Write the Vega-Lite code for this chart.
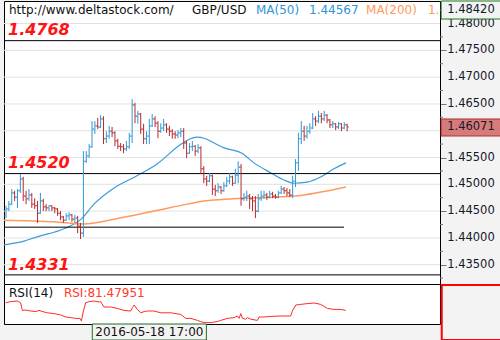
{
"$schema": "https://vega.github.io/schema/vega-lite/v6.json",
"background": "#f3f3f3",
"padding": 0,
"spacing": 0,
"bounds": "flush",
"config": {"view": {"fill": "white", "stroke": "#000", "strokeWidth": 1}, "font": "DejaVu Sans"},
"datasets": {
"bars": [
{"i":0,"o":1.4441,"h":1.4460,"l":1.4437,"c":1.4454},
{"i":1,"o":1.4454,"h":1.4469,"l":1.4450,"c":1.4463},
{"i":2,"o":1.4463,"h":1.4491,"l":1.4461,"c":1.4484},
{"i":3,"o":1.4484,"h":1.4488,"l":1.4469,"c":1.4476},
{"i":4,"o":1.4476,"h":1.4491,"l":1.4456,"c":1.4488},
{"i":5,"o":1.4488,"h":1.4519,"l":1.4484,"c":1.4510},
{"i":6,"o":1.4510,"h":1.4514,"l":1.4469,"c":1.4478},
{"i":7,"o":1.4478,"h":1.4488,"l":1.4463,"c":1.4473},
{"i":8,"o":1.4473,"h":1.4491,"l":1.4469,"c":1.4480},
{"i":9,"o":1.4480,"h":1.4484,"l":1.4456,"c":1.4463},
{"i":10,"o":1.4463,"h":1.4474,"l":1.4454,"c":1.4460},
{"i":11,"o":1.4460,"h":1.4469,"l":1.4428,"c":1.4446},
{"i":12,"o":1.4446,"h":1.4484,"l":1.4445,"c":1.4469},
{"i":13,"o":1.4469,"h":1.4473,"l":1.4450,"c":1.4458},
{"i":14,"o":1.4458,"h":1.4463,"l":1.4450,"c":1.4456},
{"i":15,"o":1.4456,"h":1.4461,"l":1.4450,"c":1.4460},
{"i":16,"o":1.4460,"h":1.4461,"l":1.4450,"c":1.4456},
{"i":17,"o":1.4456,"h":1.4458,"l":1.4446,"c":1.4454},
{"i":18,"o":1.4454,"h":1.4456,"l":1.4441,"c":1.4446},
{"i":19,"o":1.4446,"h":1.4450,"l":1.4433,"c":1.4439},
{"i":20,"o":1.4439,"h":1.4441,"l":1.4428,"c":1.4433},
{"i":21,"o":1.4433,"h":1.4446,"l":1.4432,"c":1.4441},
{"i":22,"o":1.4441,"h":1.4448,"l":1.4433,"c":1.4443},
{"i":23,"o":1.4443,"h":1.4445,"l":1.4430,"c":1.4435},
{"i":24,"o":1.4435,"h":1.4443,"l":1.4428,"c":1.4437},
{"i":25,"o":1.4437,"h":1.4441,"l":1.4409,"c":1.4422},
{"i":26,"o":1.4422,"h":1.4428,"l":1.4398,"c":1.4409},
{"i":27,"o":1.4409,"h":1.4562,"l":1.4402,"c":1.4543},
{"i":28,"o":1.4543,"h":1.4562,"l":1.4540,"c":1.4553},
{"i":29,"o":1.4553,"h":1.4575,"l":1.4549,"c":1.4570},
{"i":30,"o":1.4570,"h":1.4618,"l":1.4568,"c":1.4603},
{"i":31,"o":1.4603,"h":1.4618,"l":1.4594,"c":1.4609},
{"i":32,"o":1.4609,"h":1.4624,"l":1.4603,"c":1.4607},
{"i":33,"o":1.4607,"h":1.4629,"l":1.4605,"c":1.4622},
{"i":34,"o":1.4622,"h":1.4627,"l":1.4575,"c":1.4585},
{"i":35,"o":1.4585,"h":1.4599,"l":1.4577,"c":1.4590},
{"i":36,"o":1.4590,"h":1.4609,"l":1.4585,"c":1.4599},
{"i":37,"o":1.4599,"h":1.4607,"l":1.4588,"c":1.4596},
{"i":38,"o":1.4596,"h":1.4599,"l":1.4571,"c":1.4581},
{"i":39,"o":1.4581,"h":1.4585,"l":1.4566,"c":1.4571},
{"i":40,"o":1.4571,"h":1.4577,"l":1.4562,"c":1.4570},
{"i":41,"o":1.4570,"h":1.4575,"l":1.4558,"c":1.4566},
{"i":42,"o":1.4566,"h":1.4581,"l":1.4562,"c":1.4570},
{"i":43,"o":1.4570,"h":1.4596,"l":1.4566,"c":1.4590},
{"i":44,"o":1.4590,"h":1.4659,"l":1.4577,"c":1.4648},
{"i":45,"o":1.4648,"h":1.4652,"l":1.4614,"c":1.4627},
{"i":46,"o":1.4627,"h":1.4637,"l":1.4613,"c":1.4631},
{"i":47,"o":1.4631,"h":1.4633,"l":1.4594,"c":1.4603},
{"i":48,"o":1.4603,"h":1.4613,"l":1.4575,"c":1.4585},
{"i":49,"o":1.4585,"h":1.4599,"l":1.4575,"c":1.4590},
{"i":50,"o":1.4590,"h":1.4622,"l":1.4575,"c":1.4609},
{"i":51,"o":1.4609,"h":1.4631,"l":1.4607,"c":1.4622},
{"i":52,"o":1.4622,"h":1.4627,"l":1.4607,"c":1.4614},
{"i":53,"o":1.4614,"h":1.4618,"l":1.4586,"c":1.4599},
{"i":54,"o":1.4599,"h":1.4614,"l":1.4596,"c":1.4605},
{"i":55,"o":1.4605,"h":1.4622,"l":1.4599,"c":1.4611},
{"i":56,"o":1.4611,"h":1.4614,"l":1.4596,"c":1.4603},
{"i":57,"o":1.4603,"h":1.4609,"l":1.4590,"c":1.4599},
{"i":58,"o":1.4599,"h":1.4603,"l":1.4585,"c":1.4594},
{"i":59,"o":1.4594,"h":1.4599,"l":1.4585,"c":1.4592},
{"i":60,"o":1.4592,"h":1.4601,"l":1.4586,"c":1.4596},
{"i":61,"o":1.4596,"h":1.4605,"l":1.4588,"c":1.4599},
{"i":62,"o":1.4599,"h":1.4605,"l":1.4566,"c":1.4577},
{"i":63,"o":1.4577,"h":1.4581,"l":1.4549,"c":1.4558},
{"i":64,"o":1.4558,"h":1.4577,"l":1.4557,"c":1.4570},
{"i":65,"o":1.4570,"h":1.4581,"l":1.4562,"c":1.4571},
{"i":66,"o":1.4571,"h":1.4573,"l":1.4553,"c":1.4562},
{"i":67,"o":1.4562,"h":1.4575,"l":1.4558,"c":1.4568},
{"i":68,"o":1.4568,"h":1.4571,"l":1.4519,"c":1.4529},
{"i":69,"o":1.4529,"h":1.4534,"l":1.4502,"c":1.4510},
{"i":70,"o":1.4510,"h":1.4516,"l":1.4497,"c":1.4506},
{"i":71,"o":1.4506,"h":1.4521,"l":1.4504,"c":1.4516},
{"i":72,"o":1.4516,"h":1.4518,"l":1.4480,"c":1.4491},
{"i":73,"o":1.4491,"h":1.4499,"l":1.4478,"c":1.4488},
{"i":74,"o":1.4488,"h":1.4502,"l":1.4484,"c":1.4495},
{"i":75,"o":1.4495,"h":1.4497,"l":1.4482,"c":1.4488},
{"i":76,"o":1.4488,"h":1.4504,"l":1.4486,"c":1.4497},
{"i":77,"o":1.4497,"h":1.4514,"l":1.4495,"c":1.4506},
{"i":78,"o":1.4506,"h":1.4521,"l":1.4501,"c":1.4514},
{"i":79,"o":1.4514,"h":1.4516,"l":1.4497,"c":1.4502},
{"i":80,"o":1.4502,"h":1.4529,"l":1.4501,"c":1.4517},
{"i":81,"o":1.4517,"h":1.4543,"l":1.4502,"c":1.4532},
{"i":82,"o":1.4532,"h":1.4538,"l":1.4460,"c":1.4473},
{"i":83,"o":1.4473,"h":1.4484,"l":1.4469,"c":1.4476},
{"i":84,"o":1.4476,"h":1.4488,"l":1.4469,"c":1.4478},
{"i":85,"o":1.4478,"h":1.4482,"l":1.4454,"c":1.4473},
{"i":86,"o":1.4473,"h":1.4478,"l":1.4450,"c":1.4469},
{"i":87,"o":1.4469,"h":1.4478,"l":1.4437,"c":1.4450},
{"i":88,"o":1.4450,"h":1.4482,"l":1.4448,"c":1.4473},
{"i":89,"o":1.4473,"h":1.4488,"l":1.4469,"c":1.4478},
{"i":90,"o":1.4478,"h":1.4488,"l":1.4473,"c":1.4480},
{"i":91,"o":1.4480,"h":1.4484,"l":1.4471,"c":1.4476},
{"i":92,"o":1.4476,"h":1.4488,"l":1.4474,"c":1.4482},
{"i":93,"o":1.4482,"h":1.4486,"l":1.4474,"c":1.4478},
{"i":94,"o":1.4478,"h":1.4482,"l":1.4473,"c":1.4476},
{"i":95,"o":1.4476,"h":1.4488,"l":1.4474,"c":1.4484},
{"i":96,"o":1.4484,"h":1.4497,"l":1.4482,"c":1.4491},
{"i":97,"o":1.4491,"h":1.4495,"l":1.4482,"c":1.4488},
{"i":98,"o":1.4488,"h":1.4493,"l":1.4478,"c":1.4484},
{"i":99,"o":1.4484,"h":1.4491,"l":1.4476,"c":1.4480},
{"i":100,"o":1.4480,"h":1.4516,"l":1.4474,"c":1.4506},
{"i":101,"o":1.4506,"h":1.4547,"l":1.4495,"c":1.4540},
{"i":102,"o":1.4540,"h":1.4596,"l":1.4525,"c":1.4585},
{"i":103,"o":1.4585,"h":1.4618,"l":1.4575,"c":1.4599},
{"i":104,"o":1.4599,"h":1.4609,"l":1.4581,"c":1.4590},
{"i":105,"o":1.4590,"h":1.4609,"l":1.4585,"c":1.4599},
{"i":106,"o":1.4599,"h":1.4614,"l":1.4594,"c":1.4605},
{"i":107,"o":1.4605,"h":1.4633,"l":1.4603,"c":1.4622},
{"i":108,"o":1.4622,"h":1.4627,"l":1.4609,"c":1.4618},
{"i":109,"o":1.4618,"h":1.4637,"l":1.4614,"c":1.4627},
{"i":110,"o":1.4627,"h":1.4633,"l":1.4614,"c":1.4622},
{"i":111,"o":1.4622,"h":1.4637,"l":1.4618,"c":1.4629},
{"i":112,"o":1.4629,"h":1.4631,"l":1.4614,"c":1.4620},
{"i":113,"o":1.4620,"h":1.4622,"l":1.4605,"c":1.4611},
{"i":114,"o":1.4611,"h":1.4618,"l":1.4605,"c":1.4613},
{"i":115,"o":1.4613,"h":1.4614,"l":1.4601,"c":1.4607},
{"i":116,"o":1.4607,"h":1.4616,"l":1.4603,"c":1.4613},
{"i":117,"o":1.4613,"h":1.4614,"l":1.4599,"c":1.4605},
{"i":118,"o":1.4605,"h":1.4616,"l":1.4603,"c":1.4611},
{"i":119,"o":1.4611,"h":1.4613,"l":1.4599,"c":1.4607}
],
"ma50": [
{"i":-0.7,"v":1.4387},{"i":6.3,"v":1.4394},{"i":10.8,"v":1.4402},{"i":20.2,"v":1.4417},{"i":26.2,"v":1.4435},{"i":30.7,"v":1.4463},{"i":37.7,"v":1.4493},{"i":45.7,"v":1.4516},{"i":52.7,"v":1.4538},{"i":61.1,"v":1.4575},{"i":63.9,"v":1.4584},{"i":66.6,"v":1.4588},{"i":69.1,"v":1.4586},{"i":72.6,"v":1.4577},{"i":76.1,"v":1.4568},{"i":82.3,"v":1.4558},{"i":86.5,"v":1.4540},{"i":92.5,"v":1.4521},{"i":97,"v":1.4508},{"i":100.5,"v":1.4502},{"i":105,"v":1.4504},{"i":109.9,"v":1.4514},{"i":114.4,"v":1.4529},{"i":118.6,"v":1.4540}
],
"ma200": [
{"i":-0.7,"v":1.4433},{"i":16.7,"v":1.4430},{"i":27.2,"v":1.4426},{"i":37.7,"v":1.4435},{"i":51.6,"v":1.4450},{"i":63.2,"v":1.4463},{"i":69.1,"v":1.4469},{"i":76.1,"v":1.4472},{"i":92.5,"v":1.4476},{"i":100.5,"v":1.4478},{"i":118.6,"v":1.4495}
],
"rsi": [
{"i":-0.1,"v":53},{"i":1.6,"v":56},{"i":3.9,"v":57.5},{"i":5.1,"v":53},{"i":5.7,"v":34},{"i":6.9,"v":35},{"i":8.6,"v":32.5},{"i":10.4,"v":31},{"i":11.5,"v":34},{"i":13.3,"v":30},{"i":14.4,"v":28},{"i":16.8,"v":26},{"i":19.1,"v":22.5},{"i":20.8,"v":17.5},{"i":22.6,"v":16},{"i":24.3,"v":14},{"i":25.8,"v":14},{"i":26.3,"v":7.5},{"i":27.0,"v":32.5},{"i":27.8,"v":53},{"i":29.0,"v":56},{"i":30.7,"v":57.5},{"i":32.5,"v":55},{"i":33.0,"v":56},{"i":34.2,"v":42.5},{"i":36.5,"v":42.5},{"i":38.8,"v":39},{"i":41.2,"v":34},{"i":43.5,"v":32.5},{"i":44.1,"v":41},{"i":44.7,"v":47.5},{"i":45.8,"v":36.5},{"i":47.0,"v":28},{"i":48.2,"v":31},{"i":49.3,"v":32.5},{"i":51.6,"v":32.5},{"i":54.0,"v":28},{"i":57.5,"v":28},{"i":61.0,"v":24},{"i":62.7,"v":14},{"i":64.5,"v":14},{"i":66.8,"v":9},{"i":67.9,"v":6},{"i":69.1,"v":3.5},{"i":71.4,"v":3.5},{"i":73.7,"v":6},{"i":74.9,"v":9},{"i":77.2,"v":14},{"i":79.6,"v":16},{"i":80.7,"v":20},{"i":81.3,"v":14},{"i":81.9,"v":26},{"i":82.5,"v":14},{"i":83.6,"v":12},{"i":84.2,"v":16},{"i":85.4,"v":12},{"i":87.7,"v":9},{"i":88.3,"v":17.5},{"i":90.0,"v":17.5},{"i":92.4,"v":19},{"i":95.9,"v":20},{"i":99.3,"v":20},{"i":99.9,"v":32.5},{"i":101.1,"v":47.5},{"i":102.8,"v":49},{"i":105.1,"v":51},{"i":107.5,"v":52.5},{"i":109.8,"v":49},{"i":112.1,"v":39},{"i":114.4,"v":36.5},{"i":116.8,"v":36.5},{"i":118.5,"v":34}
],
"levels": [{"p":1.435},{"p":1.44},{"p":1.445},{"p":1.45},{"p":1.455},{"p":1.46},{"p":1.465},{"p":1.47},{"p":1.475},{"p":1.48}],
"labels": [{"p":1.435},{"p":1.44},{"p":1.445},{"p":1.45},{"p":1.455},{"p":1.465},{"p":1.47},{"p":1.475},{"p":1.48}]
},
"vconcat": [
{
"width": 436,
"height": 283,
"layer": [
{
"data": {"name": "levels"},
"mark": {"type": "rule", "color": "#e2e2e2", "strokeWidth": 1},
"encoding": {
"x": {"datum": -0.7, "type": "quantitative", "scale": {"domain": [-0.7, 151.4], "nice": false, "zero": false}, "axis": null},
"x2": {"datum": 151.4},
"y": {"field": "p", "type": "quantitative", "scale": {"domain": [1.4314, 1.4842], "nice": false, "zero": false},
"axis": {"orient": "right", "title": null,
"values": [1.435,1.44,1.445,1.45,1.455,1.46,1.465,1.47,1.475,1.48],
"labels": false, "grid": false, "tickSize": 6, "tickColor": "#777", "domain": true, "domainColor": "#000",
"minExtent": 64, "maxExtent": 64}}
}
},
{
"data": {"values": [{"p":1.4325},{"p":1.4375},{"p":1.4425},{"p":1.4475},{"p":1.4525},{"p":1.4575},{"p":1.4625},{"p":1.4675},{"p":1.4725},{"p":1.4775},{"p":1.4825}]},
"mark": {"type": "rule", "color": "#777", "strokeWidth": 1},
"encoding": {"x": {"datum": 151.4, "type": "quantitative"}, "x2": {"datum": 152.45}, "y": {"field": "p", "type": "quantitative"}}
},
{
"data": {"name": "labels"},
"mark": {"type": "text", "align": "left", "baseline": "middle", "fontSize": 11.5, "color": "#14182a"},
"encoding": {"x": {"datum": 153.9, "type": "quantitative"}, "y": {"field": "p", "type": "quantitative"}, "text": {"field": "p", "type": "quantitative", "format": ".5f"}}
},
{
"data": {"name": "ma50"},
"mark": {"type": "line", "color": "#3a9bd8", "strokeWidth": 1.2, "interpolate": "monotone"},
"encoding": {"x": {"field": "i", "type": "quantitative"}, "y": {"field": "v", "type": "quantitative"}}
},
{
"data": {"name": "ma200"},
"mark": {"type": "line", "color": "#ff9a5c", "strokeWidth": 1.5, "interpolate": "monotone"},
"encoding": {"x": {"field": "i", "type": "quantitative"}, "y": {"field": "v", "type": "quantitative"}}
},
{
"data": {"values": [{"p": 1.4768, "a": -0.7, "b": 151.4}, {"p": 1.452, "a": -0.7, "b": 151.4}, {"p": 1.442, "a": -0.7, "b": 117.9}, {"p": 1.4331, "a": -0.7, "b": 151.4}]},
"mark": {"type": "rule", "color": "#000", "strokeWidth": 1},
"encoding": {"x": {"field": "a", "type": "quantitative"}, "x2": {"field": "b"}, "y": {"field": "p", "type": "quantitative"}}
},
{
"data": {"name": "bars"},
"encoding": {
"x": {"field": "i", "type": "quantitative"},
"color": {"condition": {"test": "datum.c >= datum.o", "value": "#2f96d4"}, "value": "#b52a2e"}
},
"layer": [
{"mark": {"type": "rule", "strokeWidth": 1}, "encoding": {"y": {"field": "l", "type": "quantitative"}, "y2": {"field": "h"}}},
{"mark": {"type": "tick", "orient": "horizontal", "size": 2, "thickness": 1, "xOffset": -1}, "encoding": {"y": {"field": "o", "type": "quantitative"}}},
{"mark": {"type": "tick", "orient": "horizontal", "size": 2, "thickness": 1, "xOffset": 1}, "encoding": {"y": {"field": "c", "type": "quantitative"}}}
]
},
{
"data": {"values": [{"i": 1.04, "p": 1.4825, "t": "http://www.deltastock.com/"}, {"i": 64.9, "p": 1.4825, "t": "GBP/USD"}]},
"mark": {"type": "text", "align": "left", "baseline": "middle", "fontSize": 12, "color": "#111"},
"encoding": {"x": {"field": "i", "type": "quantitative"}, "y": {"field": "p", "type": "quantitative"}, "text": {"field": "t"}}
},
{
"data": {"values": [{"i": 87.2, "p": 1.4825, "t": "MA(50)"}, {"i": 105.7, "p": 1.4825, "t": "1.44567"}]},
"mark": {"type": "text", "align": "left", "baseline": "middle", "fontSize": 12, "color": "#2f95d6"},
"encoding": {"x": {"field": "i", "type": "quantitative"}, "y": {"field": "p", "type": "quantitative"}, "text": {"field": "t"}}
},
{
"data": {"values": [{"i": 125.6, "p": 1.4825, "t": "MA(200)"}, {"i": 147.2, "p": 1.4825, "t": "1."}]},
"mark": {"type": "text", "align": "left", "baseline": "middle", "fontSize": 12, "color": "#ff9a5c"},
"encoding": {"x": {"field": "i", "type": "quantitative"}, "y": {"field": "p", "type": "quantitative"}, "text": {"field": "t"}}
},
{
"data": {"values": [{"i": 0.7, "p": 1.4787, "t": "1.4768"}, {"i": 0.7, "p": 1.4540, "t": "1.4520"}, {"i": 0.7, "p": 1.43495, "t": "1.4331"}]},
"mark": {"type": "text", "align": "left", "baseline": "middle", "fontSize": 16, "fontWeight": "bold", "fontStyle": "italic", "color": "#ff1414"},
"encoding": {"x": {"field": "i", "type": "quantitative"}, "y": {"field": "p", "type": "quantitative"}, "text": {"field": "t"}}
},
{
"data": {"values": [{"a": 151.8, "b": 173.4, "p1": 1.4842, "p2": 1.48084}]},
"mark": {"type": "rect", "fill": "#f3f3f3", "stroke": "#217a21", "strokeWidth": 1},
"encoding": {"x": {"field": "a", "type": "quantitative"}, "x2": {"field": "b"}, "y": {"field": "p1", "type": "quantitative"}, "y2": {"field": "p2"}}
},
{
"data": {"values": [{"a": 151.8, "b": 173.0, "p1": 1.46219, "p2": 1.45901}]},
"mark": {"type": "rect", "fill": "#d77a7a", "stroke": "#b03030", "strokeWidth": 1},
"encoding": {"x": {"field": "a", "type": "quantitative"}, "x2": {"field": "b"}, "y": {"field": "p1", "type": "quantitative"}, "y2": {"field": "p2"}}
},
{
"data": {"values": [{"i": 153.9, "p": 1.48252, "t": "1.48420"}, {"i": 153.9, "p": 1.4606, "t": "1.46071"}]},
"mark": {"type": "text", "align": "left", "baseline": "middle", "fontSize": 11.5, "color": "#14182a"},
"encoding": {"x": {"field": "i", "type": "quantitative"}, "y": {"field": "p", "type": "quantitative"}, "text": {"field": "t"}}
}
]
},
{
"width": 436,
"height": 40,
"layer": [
{
"data": {"name": "rsi"},
"mark": {"type": "line", "color": "#ff2a2a", "strokeWidth": 1},
"encoding": {
"x": {"field": "i", "type": "quantitative", "scale": {"domain": [-0.7, 151.4], "nice": false, "zero": false},
"axis": {"orient": "bottom", "title": null, "labels": false, "ticks": false, "domain": false, "grid": false, "minExtent": 17, "maxExtent": 17}},
"y": {"field": "v", "type": "quantitative", "scale": {"domain": [0, 100], "nice": false, "zero": false},
"axis": {"orient": "right", "title": null, "labels": false, "ticks": false, "domain": false, "grid": false, "minExtent": 64, "maxExtent": 64}}
}
},
{
"data": {"values": [{"i": 1.04, "v": 78, "t": "RSI(14)"}]},
"mark": {"type": "text", "align": "left", "baseline": "middle", "fontSize": 12, "color": "#111"},
"encoding": {"x": {"field": "i", "type": "quantitative"}, "y": {"field": "v", "type": "quantitative"}, "text": {"field": "t"}}
},
{
"data": {"values": [{"i": 20.2, "v": 78, "t": "RSI:81.47951"}]},
"mark": {"type": "text", "align": "left", "baseline": "middle", "fontSize": 12, "color": "#ff3a2a"},
"encoding": {"x": {"field": "i", "type": "quantitative"}, "y": {"field": "v", "type": "quantitative"}, "text": {"field": "t"}}
},
{
"data": {"values": [{"a": 30.1, "b": 69.9, "v1": 0, "v2": -40}]},
"mark": {"type": "rect", "fill": "#f3f3f3", "stroke": "#1f6e1f", "strokeWidth": 1},
"encoding": {"x": {"field": "a", "type": "quantitative"}, "x2": {"field": "b"}, "y": {"field": "v1", "type": "quantitative"}, "y2": {"field": "v2"}}
},
{
"data": {"values": [{"i": 50.0, "v": -20, "t": "2016-05-18 17:00"}]},
"mark": {"type": "text", "align": "center", "baseline": "middle", "fontSize": 12, "color": "#111"},
"encoding": {"x": {"field": "i", "type": "quantitative"}, "y": {"field": "v", "type": "quantitative"}, "text": {"field": "t"}}
},
{
"data": {"values": [{"a": 152.0, "b": 173.7, "v1": 97.5, "v2": -40}]},
"mark": {"type": "rect", "fill": "#f3f3f3", "stroke": "#ff0000", "strokeWidth": 2},
"encoding": {"x": {"field": "a", "type": "quantitative"}, "x2": {"field": "b"}, "y": {"field": "v1", "type": "quantitative"}, "y2": {"field": "v2"}}
}
]
}
]
}
